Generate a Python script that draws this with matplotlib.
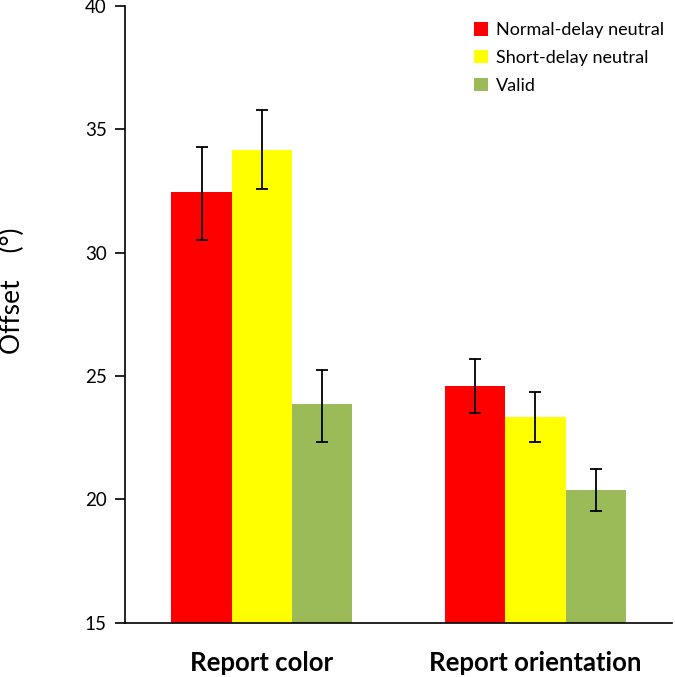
import numpy as np
import matplotlib.pyplot as plt
from matplotlib.patches import Patch

plt.rcParams['font.family'] = ['Lato', 'DejaVu Sans']

# Data
groups = ["Report color", "Report orientation"]
conditions = ["Normal-delay neutral", "Short-delay neutral", "Valid"]
colors = ["#ff0000", "#ffff00", "#9bbb59"]

normal_delay = [32.46, 24.6]
short_delay = [34.17, 23.35]
valid = [23.87, 20.39]

normal_err_lo = [1.94, 1.09]
normal_err_hi = [1.83, 1.10]
short_err_lo = [1.58, 1.02]
short_err_hi = [1.62, 1.01]
valid_err_lo = [1.54, 0.85]
valid_err_hi = [1.38, 0.85]

means = [normal_delay, short_delay, valid]
errs = [(normal_err_lo, normal_err_hi), (short_err_lo, short_err_hi), (valid_err_lo, valid_err_hi)]

fig = plt.figure(figsize=(6.75, 6.77), dpi=100)
ax = fig.add_axes([0.185, 0.080, 0.811, 0.911])

x = np.arange(len(groups))
width = 0.22
for i in range(3):
    pos = x + (i - 1) * width
    ax.bar(pos, np.array(means[i]) - 15, width, bottom=15, color=colors[i], zorder=2)
    ax.errorbar(pos, means[i], yerr=[errs[i][0], errs[i][1]], fmt="none",
                ecolor="black", elinewidth=1.3, capsize=4, capthick=1.3, zorder=3)

ax.set_xlim(-0.5, 1.5)
ax.set_ylim(15, 40)
ax.set_yticks([15, 20, 25, 30, 35, 40])
ax.tick_params(axis="y", labelsize=13.5, length=7, width=1.2, direction="out", pad=6)
ax.set_xticks(x)
ax.set_xticklabels(groups, fontsize=18.5, fontweight="bold")
ax.tick_params(axis="x", length=0, pad=20)

ax.spines["top"].set_visible(False)
ax.spines["right"].set_visible(False)
ax.spines["left"].set_linewidth(1.2)
ax.spines["bottom"].set_linewidth(1.2)

ax.set_ylabel("Offset    (°)", fontsize=19)
ax.yaxis.set_label_coords(-0.183, 0.538)

handles = [Patch(facecolor=c, label=l) for c, l in zip(colors, conditions)]
ax.legend(handles=handles, loc="upper right", bbox_to_anchor=(1.015, 1.0), frameon=False,
          fontsize=13, handlelength=0.75, handleheight=0.75, handletextpad=0.45,
          labelspacing=0.65)

fig.savefig("out.png", dpi=100)
